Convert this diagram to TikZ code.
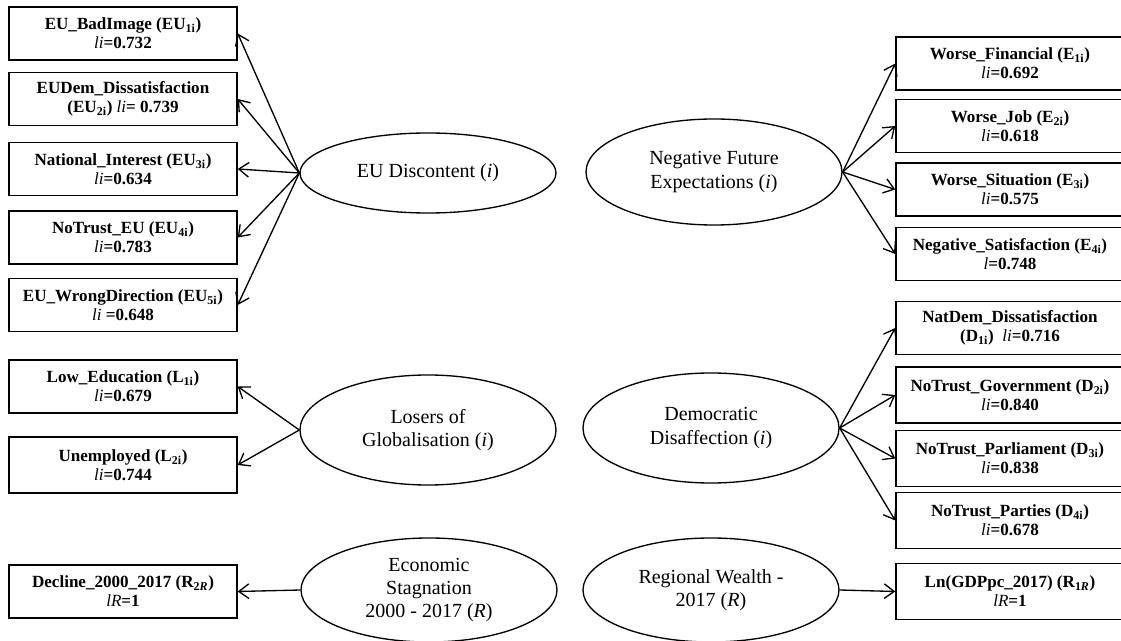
\documentclass[tikz,border=0pt]{standalone}
\usepackage{fontspec}
\setmainfont{Liberation Serif}
\usetikzlibrary{arrows.meta,shapes.geometric}
\newcommand{\lv}[1]{{\mdseries\itshape #1}}
\begin{document}
\begin{tikzpicture}[x=0.75pt,y=-0.75pt,
  ind/.style={draw,line width=1.1pt,minimum width=228*0.75pt,minimum height=53*0.75pt,
    align=center,font=\fontsize{12.8}{14.2}\selectfont\bfseries,inner sep=1pt},
  rind/.style={ind,minimum width=228*0.75pt},
  lat/.style={draw,ellipse,line width=1pt,minimum width=256*0.75pt,
    align=center,font=\fontsize{15}{17.5}\selectfont,inner sep=0pt},
  arr/.style={line width=1pt,-{Straight Barb[length=7.5pt,width=11pt,line width=1pt]}}]
\useasboundingbox (0,0) rectangle (1121,641);
% left indicator boxes
\node[ind] (eu1) at (123,33.5) {EU\_BadImage (EU\textsubscript{1i})\\\lv{li}=0.732};
\node[ind] (eu2) at (123,99) {EUDem\_Dissatisfaction\\(EU\textsubscript{2i}) \lv{li}= 0.739};
\node[ind] (eu3) at (123,169) {National\_Interest (EU\textsubscript{3i})\\\lv{li}=0.634};
\node[ind] (eu4) at (123,237.5) {NoTrust\_EU (EU\textsubscript{4i})\\\lv{li}=0.783};
\node[ind] (eu5) at (123,305) {EU\_WrongDirection (EU\textsubscript{5i})\\\lv{li} =0.648};
\node[ind] (l1) at (123,386.5) {Low\_Education (L\textsubscript{1i})\\\lv{li}=0.679};
\node[ind,minimum height=56*0.75pt] (l2) at (123,465) {Unemployed (L\textsubscript{2i})\\\lv{li}=0.744};
\node[ind] (r2) at (123,591.5) {Decline\_2000\_2017 (R\textsubscript{2\textit{R}})\\\lv{lR}=1};
% right indicator boxes
\node[rind] (e1) at (1010,63.5) {Worse\_Financial (E\textsubscript{1i})\\\lv{li}=0.692};
\node[rind] (e2) at (1010,126) {Worse\_Job (E\textsubscript{2i})\\\lv{li}=0.618};
\node[rind] (e3) at (1010,189.5) {Worse\_Situation (E\textsubscript{3i})\\\lv{li}=0.575};
\node[rind] (e4) at (1010,254) {Negative\_Satisfaction (E\textsubscript{4i})\\\lv{l}=0.748};
\node[rind] (d1) at (1010,328) {NatDem\_Dissatisfaction\\(D\textsubscript{1i})\ \ \lv{li}=0.716};
\node[rind,minimum height=56*0.75pt] (d2) at (1010,395) {NoTrust\_Government (D\textsubscript{2i})\\\lv{li}=0.840};
\node[rind,minimum height=56*0.75pt] (d3) at (1010,458.5) {NoTrust\_Parliament (D\textsubscript{3i})\\\lv{li}=0.838};
\node[rind,minimum height=56*0.75pt] (d4) at (1010,520.5) {NoTrust\_Parties (D\textsubscript{4i})\\\lv{li}=0.678};
\node[rind,minimum height=56*0.75pt] (r1) at (1010,591.5) {Ln(GDPpc\_2017) (R\textsubscript{1\textit{R}})\\\lv{lR}=1};
% latent variables
\node[lat,minimum height=80*0.75pt] (eud) at (428,173) {EU Discontent (\textit{i})};
\node[lat,minimum height=106*0.75pt] (nfe) at (714,172) {Negative Future\\Expectations (\textit{i})};
\node[lat,minimum height=110*0.75pt] (log) at (428,430) {Losers of\\Globalisation (\textit{i})};
\node[lat,minimum height=110*0.75pt] (dd) at (711,428) {Democratic\\Disaffection (\textit{i})};
\node[lat,minimum height=104*0.75pt] (es) at (429,590) {Economic\\Stagnation\\2000 - 2017 (\textit{R})};
\node[lat,minimum height=104*0.75pt] (rw) at (711,590) {Regional Wealth -\\2017 (\textit{R})};
% connectors
\foreach \t in {eu1,eu2,eu3,eu4,eu5} \draw[arr] (eud.west) -- (\t.east);
\foreach \t in {l1,l2} \draw[arr] (log.west) -- (\t.east);
\draw[arr] (es.west) -- (r2.east);
\foreach \t in {e1,e2,e3,e4} \draw[arr] (nfe.east) -- (\t.west);
\foreach \t in {d1,d2,d3,d4} \draw[arr] (dd.east) -- (\t.west);
\draw[arr] (rw.east) -- (r1.west);
\end{tikzpicture}
\end{document}
